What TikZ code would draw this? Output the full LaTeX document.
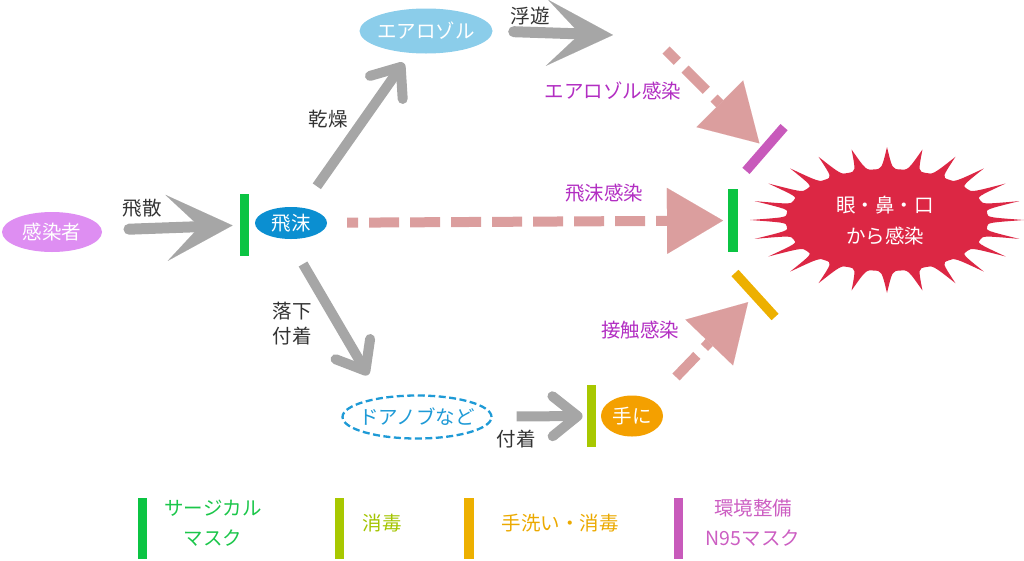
\documentclass[tikz,border=0pt]{standalone}
\usepackage{fontspec}
\setmainfont{Noto Sans CJK JP}
\usetikzlibrary{arrows.meta,shapes.geometric}
\definecolor{grayA}{HTML}{A6A6A6}
\definecolor{pinkA}{HTML}{DB9E9E}
\definecolor{greenA}{HTML}{0BC443}
\definecolor{limeA}{HTML}{A8C800}
\definecolor{yellowA}{HTML}{EDB000}
\definecolor{magA}{HTML}{C85ABB}
\definecolor{purpT}{HTML}{B22EC2}
\definecolor{kansenC}{HTML}{DE8EF2}
\definecolor{himaC}{HTML}{0B8FD1}
\definecolor{aeroC}{HTML}{8BCDEA}
\definecolor{doorC}{HTML}{1E9AD6}
\definecolor{teC}{HTML}{F4A000}
\definecolor{starC}{HTML}{DC2744}
\definecolor{inkC}{HTML}{333333}
\definecolor{legG}{HTML}{1BC64A}
\definecolor{legL}{HTML}{A3C400}
\definecolor{legY}{HTML}{EBA900}
\definecolor{legM}{HTML}{CC5EC2}
\newcommand\zbox[1]{\makebox[0pt]{#1}}
\begin{document}
\begin{tikzpicture}[x=1pt,y=-1pt,
  font=\fontsize{19.5}{24}\selectfont,
  blob/.style={ellipse, inner sep=0pt, text=white},
  lbl/.style={text=inkC, inner sep=0pt},
  plbl/.style={text=purpT, inner sep=0pt},
  barnode/.style={rectangle, inner sep=0pt, minimum width=9.5pt},
  bigarrow/.style={draw=grayA, line width=11pt, line cap=round,
    -{Stealth[length=66pt, width=66pt, inset=33pt, line width=0.01pt]}},
  thinarrow/.style={draw=grayA, line width=10pt,
    -{Straight Barb[length=25pt, width=40pt, round]}},
  pinkarrow/.style={draw=pinkA, line width=10pt, dash pattern=on 30pt off 11pt,
    -{Triangle[length=56pt, width=66pt, line width=0.01pt]}}
]
\useasboundingbox (0,0) rectangle (1024,560);

% starburst
\begin{scope}[shift={(887,220)}]
\fill[starC] (0:137pt and 73pt)
  \foreach \k in {0,...,23}{
    .. controls ({15*\k+3}:101pt and 51pt) .. ({15*\k+7.5}:101pt and 51pt)
    .. controls ({15*\k+12}:101pt and 51pt) .. ({15*\k+15}:137pt and 73pt)
  } -- cycle;
\end{scope}
\node[text=white, align=center, inner sep=0pt, font=\fontsize{19.5}{31}\selectfont] (eye) at (885,221) {眼・鼻・口\\から感染};

% ellipses
\node[blob, fill=kansenC, minimum width=100pt, minimum height=40pt] (kansen) at (52,232) {\zbox{感染者}};
\node[blob, fill=himaC, minimum width=72pt, minimum height=32pt] (hima) at (291,223) {\zbox{飛沫}};
\node[blob, fill=aeroC, minimum width=133pt, minimum height=45pt] (aero) at (426,31) {\zbox{エアロゾル}};
\node[blob, draw=doorC, line width=2.3pt, dash pattern=on 7pt off 3.5pt, text=doorC, minimum width=149pt, minimum height=43pt] (door) at (417,417) {\zbox{ドアノブなど}};
\node[blob, fill=teC, minimum width=62pt, minimum height=41pt] (te) at (632,416) {\zbox{手に}};

% bars
\node[barnode, fill=greenA, minimum height=62pt] (gb1) at (244.5,225) {};
\node[barnode, fill=greenA, minimum height=63pt] (gb2) at (733,220.5) {};
\node[barnode, fill=limeA, minimum height=62pt] (lb) at (591.5,416) {};
\node[barnode, fill=magA, minimum height=58pt, rotate=-41] (mb) at (765,149) {};
\node[barnode, fill=yellowA, minimum height=59.5pt, rotate=42.3] (yb) at (755,295) {};

% free ends
\coordinate (floatend) at (613,35);
\coordinate (aerS) at (666,50);
\coordinate (contactS) at (676,377);
\coordinate (fallS) at (303,264);
\coordinate (fallE) at (368,375);

% gray arrows
\draw[bigarrow, shorten <=27pt, shorten >=7pt] (kansen) -- (gb1);
\draw[bigarrow, shorten <=21pt] (aero.east) -- (floatend);
\draw[thinarrow, shorten <=26pt, shorten >=12pt] (hima) -- (aero);
\draw[thinarrow] (fallS) -- (fallE);
\draw[thinarrow, shorten <=24pt, shorten >=4pt] (door) -- (lb);

% pink dashed arrows
\draw[pinkarrow, dash phase=19pt, shorten <=20pt, shorten >=5pt] (hima) -- (gb2);
\draw[pinkarrow, dash phase=14pt, shorten >=3pt] (aerS) -- (mb);
\draw[pinkarrow, shorten >=5pt] (contactS) -- (yb);

% labels
\node[lbl] (t1) at (142,208) {飛散};
\node[lbl] (t2) at (328,119) {乾燥};
\node[lbl] (t3) at (530,16) {浮遊};
\node[lbl, align=center, font=\fontsize{19.5}{25}\selectfont] (t4) at (292,324) {落下\\付着};
\node[lbl] (t5) at (516,439) {付着};
\node[plbl] (p1) at (613,91) {エアロゾル感染};
\node[plbl] (p2) at (604,193) {飛沫感染};
\node[plbl] (p3) at (640,330) {接触感染};

% legend
\node[barnode, fill=greenA, minimum height=61pt] (lg1) at (142.5,528) {};
\node[barnode, fill=limeA, minimum height=61pt] (lg2) at (339.5,528) {};
\node[barnode, fill=yellowA, minimum height=61pt] (lg3) at (469,528) {};
\node[barnode, fill=magA, minimum height=61pt] (lg4) at (678.5,528) {};
\node[text=legG, align=center, inner sep=0pt, font=\fontsize{19.5}{30}\selectfont] (lt1) at (213,523) {サージカル\\マスク};
\node[text=legL, inner sep=0pt] (lt2) at (382,523) {消毒};
\node[text=legY, inner sep=0pt] (lt3) at (560,523) {手洗い・消毒};
\node[text=legM, align=center, inner sep=0pt, font=\fontsize{19.5}{30}\selectfont] (lt4) at (753,523) {環境整備\\N95マスク};
\end{tikzpicture}
\end{document}
